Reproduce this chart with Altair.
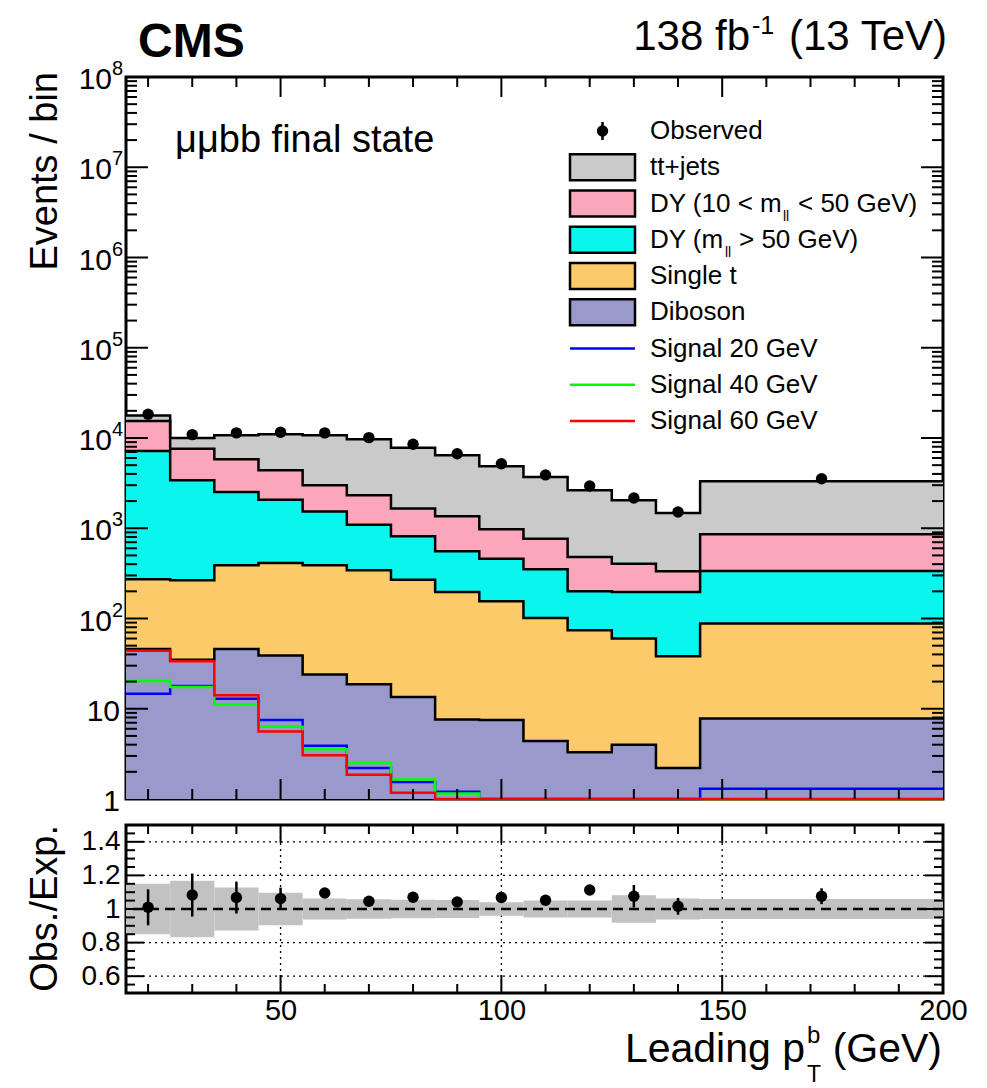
import altair as alt
import pandas as pd

FONT = "Liberation Sans"

# ---------------- data ----------------
bin_edges = [15, 25, 35, 45, 55, 65, 75, 85, 95, 105, 115, 125, 135, 145, 200]
bin_centers = [20, 30, 40, 50, 60, 70, 80, 90, 100, 110, 120, 130, 140, 172.5]

tt_jets = [2400, 2390, 4890, 6610, 7710, 7350, 6160, 5070, 3890, 2930, 2150, 1640, 1140, 2450]
dy_low = [8220, 4210, 3290, 2320, 1450, 1220, 835, 800, 515, 415, 280, 208, 136, 521]
dy_high = [6910, 3130, 2130, 1660, 1150, 754, 546, 359, 305, 250, 126, 137, 159, 248]
single_t = [226, 231, 342, 373, 364, 323, 256, 189, 148, 97, 71, 56, 36, 80]
diboson = [46, 35, 46, 39, 24, 18.7, 13.5, 7.6, 7.5, 4.4, 3.3, 4.0, 2.2, 7.8]

signal_20 = [14.7, 17.9, 12.9, 7.5, 3.9, 2.2, 1.54, 1.2, 0, 0, 0, 0, 0, 1.3]
signal_40 = [20.3, 17.4, 11.2, 6.3, 3.55, 2.5, 1.64, 1.15, 0, 0, 0, 0, 0, 0]
signal_60 = [44, 33.6, 14.1, 5.6, 3.05, 1.86, 1.17, 1.0, 0, 0, 0, 0, 0, 0]

observed = [18300, 10900, 11400, 11600, 11400, 10100, 8510, 6700, 5190, 3900, 2940, 2160, 1514, 3540]
ratio = [1.01, 1.083, 1.068, 1.062, 1.095, 1.046, 1.070, 1.042, 1.068, 1.052, 1.113, 1.076, 1.016, 1.076]
ratio_err = [0.107, 0.128, 0.095, 0.065, 0.03, 0.025, 0.025, 0.025, 0.025, 0.025, 0.03, 0.067, 0.05, 0.047]
mc_unc = [0.15, 0.168, 0.128, 0.096, 0.062, 0.058, 0.055, 0.053, 0.04, 0.05, 0.05, 0.082, 0.062, 0.06]

process_names = ["tt+jets", "DY (10 < m_ll < 50 GeV)", "DY (m_ll > 50 GeV)", "Single t", "Diboson"]
process_vals = [tt_jets, dy_low, dy_high, single_t, diboson]
process_colors = ["#cacaca", "#fca6bb", "#0af5ee", "#fdca69", "#9999cc"]
signal_names = ["Signal 20 GeV", "Signal 40 GeV", "Signal 60 GeV"]
signal_vals = [signal_20, signal_40, signal_60]
signal_colors = ["#0000ff", "#00ff00", "#ff0000"]

# ---------------- geometry ----------------
W, H, RH = 817, 722, 168
NB = len(bin_centers)
dummy = pd.DataFrame({"d": [0]})

x_scale = alt.Scale(domain=[15, 200], nice=False, zero=False)
y_scale = alt.Scale(type="log", domain=[1, 1e8], nice=False)
r_scale = alt.Scale(domain=[0.5, 1.5], nice=False, zero=False)

X_top = alt.X("x:Q", scale=x_scale, axis=None)
Y_top = alt.Y("y:Q", scale=y_scale, axis=None)

r_xaxis = alt.Axis(values=[50, 100, 150, 200], labelFontSize=29, labelFont=FONT, labelColor="black",
                   tickSize=0, domain=False, grid=False, labelPadding=3, title="",
                   labelFlush=False, labelOverlap=False)
r_yaxis = alt.Axis(values=[0.6, 0.8, 1, 1.2, 1.4], labelFontSize=28, labelFont=FONT, labelColor="black",
                   labelExpr="datum.value == 1 ? '1' : format(datum.value, '.1f')",
                   tickSize=0, domain=False, grid=False, labelPadding=6, title="",
                   labelFlush=False, labelOverlap=False)


def Xr(field="x"):
    return alt.X(f"{field}:Q", scale=x_scale, axis=r_xaxis)


def Yr(field="y"):
    return alt.Y(f"{field}:Q", scale=r_scale, axis=r_yaxis)


def step_df(vals, floor=None):
    ys = [max(v, floor) for v in vals] if floor is not None else list(vals)
    return pd.DataFrame({"x": bin_edges, "y": ys + [ys[-1]], "base": [1.0] * len(bin_edges)})


def txt(s, x, y, size, align="left", weight="normal", angle=0, baseline="alphabetic"):
    return alt.Chart(dummy).mark_text(
        text=s, font=FONT, fontSize=size, align=align, baseline=baseline,
        fontWeight=weight, angle=angle, color="black"
    ).encode(x=alt.value(x), y=alt.value(y))


def xticks(vals, X, h, length, sw=2):
    df = pd.DataFrame({"x": vals})
    b = alt.Chart(df).mark_rule(color="black", strokeWidth=sw).encode(
        x=X, y=alt.value(h), y2=alt.value(h - length))
    t = alt.Chart(df).mark_rule(color="black", strokeWidth=sw).encode(
        x=X, y=alt.value(0), y2=alt.value(length))
    return [b, t]


def yticks(vals, Y, w, length, sw=2):
    df = pd.DataFrame({"y": vals})
    l = alt.Chart(df).mark_rule(color="black", strokeWidth=sw).encode(
        y=Y, x=alt.value(0), x2=alt.value(length))
    r = alt.Chart(df).mark_rule(color="black", strokeWidth=sw).encode(
        y=Y, x=alt.value(w - length), x2=alt.value(w))
    return [l, r]


# ---------------- top panel ----------------
# cumulative stack tops (diboson at the bottom of the stack)
tops = [[sum(process_vals[j][b] for j in range(i, len(process_vals))) for b in range(NB)]
        for i in range(len(process_vals))]

layers = []
# pin the top-left corner of the page
layers.append(alt.Chart(dummy).mark_rule(color="white", strokeOpacity=0, strokeWidth=0.5).encode(
    x=alt.value(-124), x2=alt.value(-123), y=alt.value(-75), y2=alt.value(-75)))

for i in range(len(process_vals)):
    layers.append(alt.Chart(step_df(tops[i])).mark_area(
        interpolate="step-after", color=process_colors[i], opacity=1).encode(
        x=X_top, y=Y_top, y2="base:Q"))
for i in range(len(process_vals)):
    layers.append(alt.Chart(step_df(tops[i])).mark_line(
        interpolate="step-after", color="black", strokeWidth=2.5).encode(x=X_top, y=Y_top))
for vals, col in zip(signal_vals, signal_colors):
    layers.append(alt.Chart(step_df(vals, floor=1.0)).mark_line(
        interpolate="step-after", color=col, strokeWidth=2.5).encode(x=X_top, y=Y_top))

obs_df = pd.DataFrame({"x": bin_centers, "y": observed})
layers.append(alt.Chart(obs_df).mark_circle(size=130, color="black", opacity=1).encode(x=X_top, y=Y_top))

# ticks (inward, ROOT style)
x_minor = [v for v in range(20, 200, 10) if v % 50]
x_major = [50, 100, 150]
y_major = [10 ** k for k in range(1, 8)]
y_minor = [m * 10 ** k for k in range(0, 8) for m in range(2, 10)]
layers += xticks(x_minor, X_top, H, 10)
layers += xticks(x_major, X_top, H, 20)
layers += yticks(y_minor, Y_top, W, 11)
layers += yticks(y_major, Y_top, W, 22)

# y tick labels
lab_small = pd.DataFrame({"y": [1, 10], "t": ["1", "10"]})
layers.append(alt.Chart(lab_small).mark_text(
    align="right", baseline="middle", fontSize=30, font=FONT, dy=3, color="black").encode(
    y=Y_top, x=alt.value(-6), text="t:N"))
lab_pow = pd.DataFrame({"y": [10 ** k for k in range(2, 9)], "e": [str(k) for k in range(2, 9)]})
layers.append(alt.Chart(lab_pow).mark_text(
    text="10", align="right", baseline="middle", fontSize=30, font=FONT, dy=3, color="black").encode(
    y=Y_top, x=alt.value(-14)))
layers.append(alt.Chart(lab_pow).mark_text(
    align="left", baseline="middle", fontSize=20, font=FONT, dy=-8, color="black").encode(
    y=Y_top, x=alt.value(-14), text="e:N"))

# titles / labels
layers.append(txt("Events / bin", -69, -5, 38, align="right", angle=270))
layers.append(txt("CMS", 12, -20, 48, weight="bold"))
layers.append(txt("138 fb", 624, -27, 42, align="right"))
layers.append(txt("-1", 626, -43, 25))
layers.append(txt("(13 TeV)", 821, -27, 42, align="right"))
layers.append(txt("\u03bc\u03bcbb final state", 49, 75, 38))

# legend
LX0, LX1, LT = 444, 509, 524
row_y = [54 + 36.25 * i for i in range(9)]
# Observed
layers.append(alt.Chart(dummy).mark_rule(color="black", strokeWidth=2.5).encode(
    x=alt.value((LX0 + LX1) / 2), y=alt.value(row_y[0] - 9), y2=alt.value(row_y[0] + 9)))
layers.append(alt.Chart(dummy).mark_circle(size=130, color="black", opacity=1).encode(
    x=alt.value((LX0 + LX1) / 2), y=alt.value(row_y[0])))
layers.append(txt("Observed", LT, row_y[0], 26, baseline="middle"))
# background boxes
for i, col in enumerate(process_colors):
    yc = row_y[i + 1]
    layers.append(alt.Chart(dummy).mark_rect(color=col, stroke="black", strokeWidth=2.5).encode(
        x=alt.value(LX0), x2=alt.value(LX1), y=alt.value(yc - 13), y2=alt.value(yc + 13)))
layers.append(txt("tt+jets", LT, row_y[1], 26, baseline="middle"))
layers.append(txt("DY (10 < m", LT, row_y[2], 26, baseline="middle"))
layers.append(txt("ll", LT + 133, row_y[2] + 17, 14))
layers.append(txt("< 50 GeV)", LT + 148, row_y[2], 26, baseline="middle"))
layers.append(txt("DY (m", LT, row_y[3], 26, baseline="middle"))
layers.append(txt("ll", LT + 75, row_y[3] + 17, 14))
layers.append(txt("> 50 GeV)", LT + 89, row_y[3], 26, baseline="middle"))
layers.append(txt("Single t", LT, row_y[4], 26, baseline="middle"))
layers.append(txt("Diboson", LT, row_y[5], 26, baseline="middle"))
for i, (name, col) in enumerate(zip(signal_names, signal_colors)):
    yc = row_y[6 + i]
    layers.append(alt.Chart(dummy).mark_rule(color=col, strokeWidth=2.5).encode(
        x=alt.value(LX0), x2=alt.value(LX1), y=alt.value(yc)))
    layers.append(txt(name, LT, yc, 26, baseline="middle"))

top = alt.layer(*layers).properties(width=W, height=H)

# ---------------- ratio panel ----------------
rl = []
band_df = pd.DataFrame({"x": bin_edges[:-1], "x2": bin_edges[1:],
                        "lo": [1 - u for u in mc_unc], "hi": [1 + u for u in mc_unc]})
grid_x = pd.DataFrame({"x": [50, 100, 150]})
grid_y = pd.DataFrame({"y": [0.6, 0.8, 1.2, 1.4]})
rl.append(alt.Chart(grid_x).mark_rule(color="black", strokeWidth=1.3, strokeDash=[2, 4]).encode(x=Xr()))
rl.append(alt.Chart(grid_y).mark_rule(color="black", strokeWidth=1.3, strokeDash=[2, 4]).encode(y=Yr()))
rl.append(alt.Chart(band_df).mark_rect(color="#c2c2c2", opacity=1).encode(
    x=Xr(), x2="x2:Q", y=Yr("lo"), y2="hi:Q"))
rl.append(alt.Chart(pd.DataFrame({"y": [1.0]})).mark_rule(
    color="black", strokeWidth=2.5, strokeDash=[10, 6]).encode(y=Yr()))
rat_df = pd.DataFrame({"x": bin_centers, "y": ratio,
                       "lo": [r - e for r, e in zip(ratio, ratio_err)],
                       "hi": [r + e for r, e in zip(ratio, ratio_err)]})
rl.append(alt.Chart(rat_df).mark_rule(color="black", strokeWidth=2.5).encode(
    x=Xr(), y=Yr("lo"), y2="hi:Q"))
rl.append(alt.Chart(rat_df).mark_circle(size=130, color="black", opacity=1).encode(x=Xr(), y=Yr()))

r_minor = [0.55, 0.65, 0.7, 0.75, 0.85, 0.9, 0.95, 1.05, 1.1, 1.15, 1.25, 1.3, 1.35, 1.45]
r_major = [0.6, 0.8, 1.0, 1.2, 1.4]
rl += xticks(x_minor, Xr(), RH, 9)
rl += xticks(x_major, Xr(), RH, 18)
rl += yticks(r_minor, Yr(), W, 9)
rl += yticks(r_major, Yr(), W, 18)

rl.append(txt("Obs./Exp.", -69, 0, 38, align="right", angle=270))
rl.append(txt("Leading p", 679, 237, 41, align="right"))
rl.append(txt("T", 681, 257, 23))
rl.append(txt("b", 681, 218, 24))
rl.append(txt("(GeV)", 816, 237, 41, align="right"))

bottom = alt.layer(*rl).properties(width=W, height=RH)

chart = alt.vconcat(top, bottom, spacing=26, bounds="flush", padding=0).configure_view(
    stroke="black", strokeWidth=3)

chart.save("out.html", embed_options={"renderer": "svg", "actions": False})
